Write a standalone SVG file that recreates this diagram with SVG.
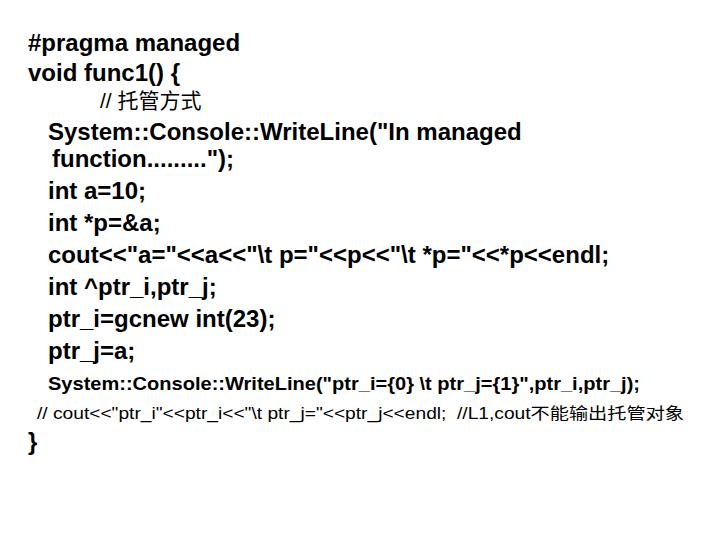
<svg xmlns="http://www.w3.org/2000/svg" width="720" height="540" viewBox="0 0 720 540">
<style>
text{font-family:"Liberation Sans",Arial,"Noto Sans CJK SC",sans-serif;fill:#000;white-space:pre}
.b{font-weight:bold;font-size:24px}
</style>
<rect width="720" height="540" fill="#fff"/>
<g id="code">
<text class="b" x="28" y="51">#pragma managed</text>
<text class="b" x="28" y="81">void func1() {</text>
<text x="100" y="108" font-size="21">// 托管方式</text>
<text class="b" x="48" y="140">System::Console::WriteLine("In managed</text>
<text class="b" x="52" y="167">function.........");</text>
<text class="b" x="48" y="199">int a=10;</text>
<text class="b" x="48" y="231">int *p=&amp;a;</text>
<text class="b" x="48" y="263">cout&lt;&lt;"a="&lt;&lt;a&lt;&lt;"\t p="&lt;&lt;p&lt;&lt;"\t *p="&lt;&lt;*p&lt;&lt;endl;</text>
<text class="b" x="48" y="295">int ^ptr_i,ptr_j;</text>
<text class="b" x="48" y="327">ptr_i=gcnew int(23);</text>
<text class="b" x="48" y="359">ptr_j=a;</text>
<text x="48" y="390" font-size="19" font-weight="bold" textLength="592" lengthAdjust="spacingAndGlyphs">System::Console::WriteLine("ptr_i={0} \t ptr_j={1}",ptr_i,ptr_j);</text>
<text x="37" y="419" font-size="16" textLength="647" lengthAdjust="spacingAndGlyphs">// cout&lt;&lt;"ptr_i"&lt;&lt;ptr_i&lt;&lt;"\t ptr_j="&lt;&lt;ptr_j&lt;&lt;endl;  //L1,cout不能输出托管对象</text>
<text class="b" x="28" y="450">}</text>
</g>
</svg>
